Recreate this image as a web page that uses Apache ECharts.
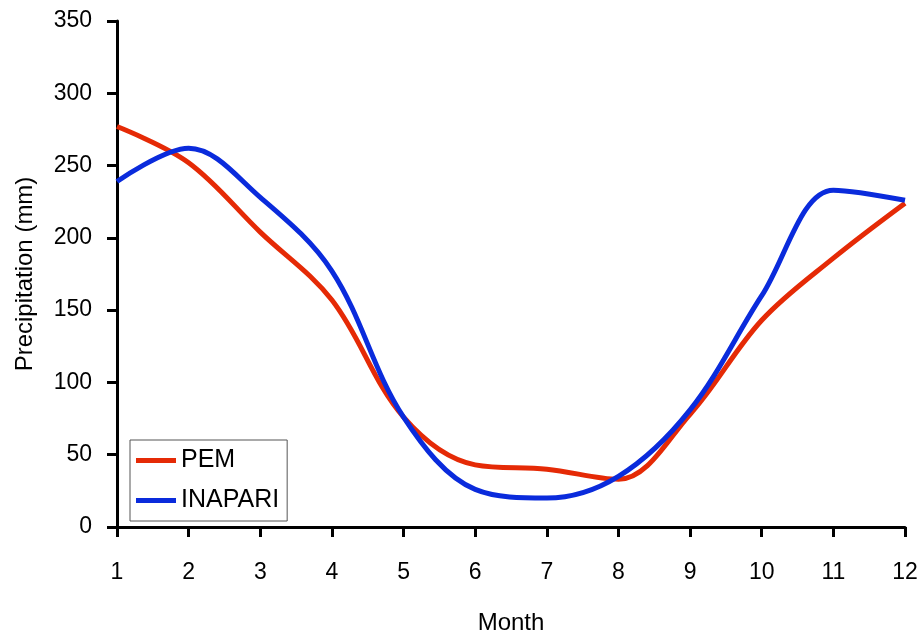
<!DOCTYPE html>
<html><head><meta charset="utf-8">
<script src="https://cdn.jsdelivr.net/npm/echarts@6/dist/echarts.min.js"></script>
<style>html,body{margin:0;padding:0;background:#fff}#c{width:922px;height:637px}</style>
</head><body><div id="c"></div>
<script>
const months = [1,2,3,4,5,6,7,8,9,10,11,12];
const pem = [277,252,204,157,76,43,40,33,78,143,186,224];
const inapari = [239,262,228,177,76,26,20,35,81,160,233,226];
const yTicks = [0,50,100,150,200,250,300,350];
const seriesNames = ['PEM','INAPARI'];

const F = '"Liberation Sans", Arial, sans-serif';
const chart = echarts.init(document.getElementById('c'), null, {renderer:'canvas'});
const pair = (arr) => months.map((m,i)=>[m,arr[i]]);
chart.setOption({
  animation:false,
  backgroundColor:'#fff',
  grid:{left:117,right:17,top:21,bottom:110,containLabel:false,outerBoundsMode:'none'},
  legend:{
    left:130, top:440, orient:'vertical', itemWidth:40, itemHeight:5, itemGap:15,
    padding:[8,8,8,6], borderColor:'#555', borderWidth:1, backgroundColor:'#fff',
    textStyle:{fontFamily:F,fontSize:25,color:'#000'},
    icon:'rect', data:seriesNames
  },
  xAxis:{
    type:'value', min:1, max:12, interval:1,
    name:'Month', nameLocation:'middle', nameGap:84,
    nameTextStyle:{fontFamily:F,fontSize:24,color:'#000'},
    axisLine:{lineStyle:{color:'#000',width:3}},
    axisTick:{show:true,length:10,lineStyle:{color:'#000',width:3}},
    axisLabel:{fontFamily:F,fontSize:23,color:'#000',margin:34},
    splitLine:{show:false}
  },
  yAxis:{
    type:'value', min:0, max:350, interval:50,
    name:'Precipitation (mm)', nameLocation:'middle', nameGap:80,
    nameTextStyle:{fontFamily:F,fontSize:24,color:'#000'},
    axisLine:{show:true,lineStyle:{color:'#000',width:3}},
    axisTick:{show:true,length:10,lineStyle:{color:'#000',width:3}},
    axisLabel:{fontFamily:F,fontSize:23,color:'#000',margin:25,
      formatter:(v)=>yTicks.includes(v)?String(v):''},
    splitLine:{show:false}
  },
  series:[
    {name:seriesNames[0],type:'line',data:pair(pem),smooth:0.35,showSymbol:false,
     lineStyle:{color:'#e52a06',width:5},itemStyle:{color:'#e52a06'},z:2},
    {name:seriesNames[1],type:'line',data:pair(inapari),smooth:0.35,showSymbol:false,
     lineStyle:{color:'#0a2bdc',width:5},itemStyle:{color:'#0a2bdc'},z:3}
  ]
});
</script></body></html>
